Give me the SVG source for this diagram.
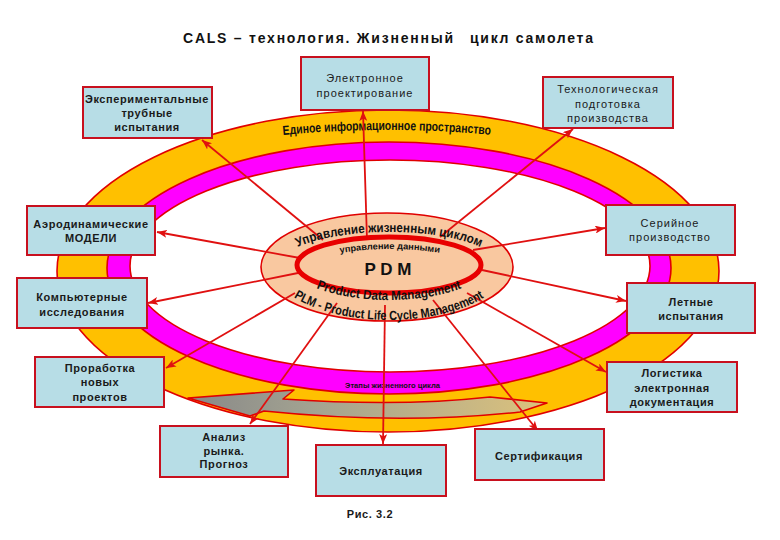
<svg xmlns="http://www.w3.org/2000/svg" width="780" height="540" viewBox="0 0 780 540">
<defs>
<style>
.box{fill:#B7DDE6;stroke:#C8101E;stroke-width:2}
.bt{font-family:"Liberation Sans",Arial,sans-serif;font-size:11px;font-weight:bold;fill:#1a1a1a;text-anchor:middle;letter-spacing:0.6px}
.bn{font-family:"Liberation Sans",Arial,sans-serif;font-size:11px;fill:#1a1a1a;text-anchor:middle;letter-spacing:1px}
.conn{stroke:#E01010;stroke-width:1.8;fill:none;marker-end:url(#ah)}
.ring{stroke:#E00000;stroke-width:1.6}
.arc{font-family:"Liberation Sans",Arial,sans-serif;font-weight:bold;fill:#111}
.title{font-family:"Liberation Sans",Arial,sans-serif;font-weight:bold;font-size:14px;fill:#111}
</style>
<marker id="ah" markerUnits="userSpaceOnUse" markerWidth="11" markerHeight="8" refX="10" refY="4" orient="auto"><path d="M0,0 L10,4 L0,8 L2.5,4 z" fill="#E01010"/></marker>
<linearGradient id="ga" gradientUnits="userSpaceOnUse" x1="188" y1="0" x2="547" y2="0"><stop offset="0" stop-color="#888888"/><stop offset="0.35" stop-color="#A3A391"/><stop offset="1" stop-color="#DCC27C"/></linearGradient>
<path id="pTop" d="M283,135 Q388,125 493,135"/>
<path id="pLcm" d="M279,266 A110,34 0 0 1 499,266"/>
<path id="pUd" d="M340,253 Q390,245 440,253"/>
<path id="pPdm" d="M289,262 A100,38 0 0 0 489,262"/>
<path id="pPlm" d="M269,262 A120,58 0 0 0 509,262"/>
</defs>
<rect width="780" height="540" fill="#FFFFFF"/>
<text class="title" x="183" y="43" textLength="270">CALS – технология. Жизненный</text>
<text class="title" x="470" y="43" textLength="123">цикл самолета</text>

<g id="ring">
<ellipse class="ring" cx="388" cy="271" rx="331" ry="161" fill="#FFC000"/>
<ellipse class="ring" cx="389" cy="268" rx="282" ry="126" fill="#FF00FF"/>
<ellipse class="ring" cx="390" cy="266" rx="260" ry="106" fill="#FFFFFF"/>
<path d="M188,398 L294,390 L283,399 Q400,407 490,397 L547,403 L520,412 Q400,425 264,411 L250,416 Z" fill="url(#ga)" stroke="#E00000" stroke-width="1.6" stroke-linejoin="round"/>
<text class="arc" font-size="13" textLength="208" lengthAdjust="spacingAndGlyphs"><textPath href="#pTop">Единое информационное пространство</textPath></text>
<text class="arc" x="345" y="388" font-size="8" textLength="95" lengthAdjust="spacingAndGlyphs">Этапы жизненного цикла</text>
</g>

<g id="pdm-outer">
<ellipse cx="387" cy="267" rx="126" ry="54" fill="#F9C8A0" stroke="#E00000" stroke-width="1.6"/>
</g>

<g id="connectors">
<line class="conn" x1="323" y1="240" x2="202" y2="140"/>
<line class="conn" x1="367" y1="240" x2="363" y2="111"/>
<line class="conn" x1="440" y1="237" x2="573" y2="129"/>
<line class="conn" x1="300" y1="258" x2="157" y2="232"/>
<line class="conn" x1="473" y1="250" x2="605" y2="228"/>
<line class="conn" x1="298" y1="273" x2="148" y2="303"/>
<line class="conn" x1="295" y1="293" x2="166" y2="368"/>
<line class="conn" x1="337" y1="303" x2="250" y2="424"/>
<line class="conn" x1="385" y1="305" x2="383" y2="444"/>
<line class="conn" x1="433" y1="300" x2="538" y2="431"/>
<line class="conn" x1="467" y1="293" x2="606" y2="372"/>
<line class="conn" x1="482" y1="270" x2="626" y2="301"/>
</g>

<g id="pdm">
<ellipse cx="389" cy="265" rx="92" ry="28" fill="#F9C8A0" stroke="#E80000" stroke-width="5"/>
<text class="arc" font-size="13" textLength="186" lengthAdjust="spacingAndGlyphs"><textPath href="#pLcm" startOffset="50%" text-anchor="middle">Управление жизненным циклом</textPath></text>
<text class="arc" font-size="9" textLength="100" lengthAdjust="spacingAndGlyphs"><textPath href="#pUd">управление данными</textPath></text>
<text class="arc" x="388" y="275" font-size="17" text-anchor="middle">P D M</text>
<text class="arc" font-size="13" textLength="148" lengthAdjust="spacingAndGlyphs"><textPath href="#pPdm" startOffset="50%" text-anchor="middle">Product Data Management</textPath></text>
<text class="arc" font-size="13" textLength="198" lengthAdjust="spacingAndGlyphs"><textPath href="#pPlm" startOffset="50%" text-anchor="middle">PLM - Product Life Cycle Management</textPath></text>
</g>

<g id="n-exp">
<rect class="box" x="83" y="87" width="129" height="51"/>
<text class="bt" x="147" y="103">Экспериментальные</text>
<text class="bt" x="147" y="117">трубные</text>
<text class="bt" x="147" y="131">испытания</text>
</g>
<g id="n-eproj">
<rect class="box" x="301" y="57" width="128" height="53"/>
<text class="bn" x="365" y="82">Электронное</text>
<text class="bn" x="365" y="97">проектирование</text>
</g>
<g id="n-tech">
<rect class="box" x="543" y="77" width="130" height="51"/>
<text class="bn" x="608" y="93">Технологическая</text>
<text class="bn" x="608" y="108">подготовка</text>
<text class="bn" x="608" y="122">производства</text>
</g>
<g id="n-aero">
<rect class="box" x="27" y="206" width="128" height="49"/>
<text class="bt" x="91" y="228">Аэродинамические</text>
<text class="bt" x="91" y="242">МОДЕЛИ</text>
</g>
<g id="n-serial">
<rect class="box" x="606" y="205" width="129" height="50"/>
<text class="bn" x="670" y="227">Серийное</text>
<text class="bn" x="670" y="241">производство</text>
</g>
<g id="n-comp">
<rect class="box" x="17" y="278" width="130" height="50"/>
<text class="bt" x="82" y="301">Компьютерные</text>
<text class="bt" x="82" y="316">исследования</text>
</g>
<g id="n-flight">
<rect class="box" x="627" y="283" width="128" height="50"/>
<text class="bt" x="691" y="306">Летные</text>
<text class="bt" x="691" y="320">испытания</text>
</g>
<g id="n-new">
<rect class="box" x="35" y="357" width="129" height="50"/>
<text class="bt" x="100" y="372">Проработка</text>
<text class="bt" x="100" y="386">новых</text>
<text class="bt" x="100" y="401">проектов</text>
</g>
<g id="n-log">
<rect class="box" x="607" y="362" width="130" height="50"/>
<text class="bt" x="672" y="377">Логистика</text>
<text class="bt" x="672" y="392">электронная</text>
<text class="bt" x="672" y="406">документация</text>
</g>
<g id="n-market">
<rect class="box" x="160" y="426" width="128" height="51"/>
<text class="bt" x="224" y="441">Анализ</text>
<text class="bt" x="224" y="455">рынка.</text>
<text class="bt" x="224" y="468">Прогноз</text>
</g>
<g id="n-oper">
<rect class="box" x="316" y="445" width="130" height="51"/>
<text class="bt" x="381" y="475">Эксплуатация</text>
</g>
<g id="n-cert">
<rect class="box" x="475" y="429" width="129" height="51"/>
<text class="bt" x="539" y="460">Сертификация</text>
</g>
<text class="bt" x="370" y="518">Рис. 3.2</text>
</svg>
